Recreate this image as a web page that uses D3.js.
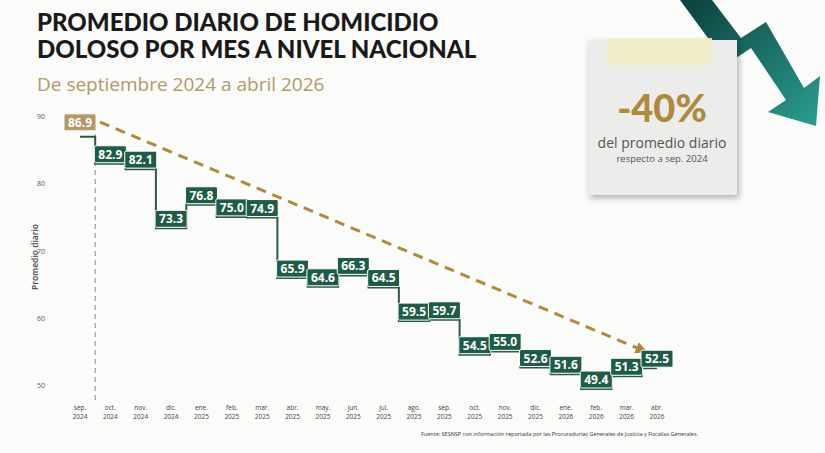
<!DOCTYPE html>
<html><head><meta charset="utf-8">
<script src="https://cdn.jsdelivr.net/npm/d3@7"></script>
<style>body{margin:0;background:#fbfbf9;font-family:'Open Sans',sans-serif}</style>
</head><body><svg id="c" width="825" height="453"></svg>
<script>
const months=["sep.","oct.","nov.","dic.","ene.","feb.","mar.","abr.","may.","jun.","jul.","ago.","sep.","oct.","nov.","dic.","ene.","feb.","mar.","abr."];
const years=["2024","2024","2024","2024","2025","2025","2025","2025","2025","2025","2025","2025","2025","2025","2025","2025","2026","2026","2026","2026"];
const values=[86.9,82.9,82.1,73.3,76.8,75.0,74.9,65.9,64.6,66.3,64.5,59.5,59.7,54.5,55.0,52.6,51.6,49.4,51.3,52.5];
const yTicks=[50,60,70,80,90];
const trend=[89.1,55.2];
const svg=d3.select("#c");
const defs=svg.append("defs");
const g=defs.append("linearGradient").attr("id","ag").attr("x1","0").attr("y1","0").attr("x2","1").attr("y2","1");
g.append("stop").attr("offset","0").attr("stop-color","#0b3f3c");
g.append("stop").attr("offset","1").attr("stop-color","#2b9e90");
const f=defs.append("filter").attr("id","sh").attr("x","-20%").attr("y","-20%").attr("width","140%").attr("height","140%");
f.append("feDropShadow").attr("dx",2).attr("dy",3).attr("stdDeviation",3).attr("flood-opacity",0.3);
defs.append("marker").attr("id","ah").attr("viewBox","0 0 10 10").attr("refX",5).attr("refY",5)
 .attr("markerWidth",4).attr("markerHeight",4).attr("orient","auto")
 .append("path").attr("d","M0,0L10,5L0,10z").attr("fill","#b08a3c");

const x=d3.scalePoint().domain(d3.range(values.length)).range([80,657]);
const y=d3.scaleLinear().domain([50,90]).range([385,116]);

svg.append("text").attr("x",37).attr("y",31).attr("font-family","Lato").attr("font-weight",900).attr("font-size",24).attr("fill","#1a1a1a").text("PROMEDIO DIARIO DE HOMICIDIO");
svg.append("text").attr("x",37).attr("y",58).attr("font-family","Lato").attr("font-weight",900).attr("font-size",24).attr("fill","#1a1a1a").text("DOLOSO POR MES A NIVEL NACIONAL");
svg.append("text").attr("x",37).attr("y",91).attr("font-size",19).attr("fill","#b39868").text("De septiembre 2024 a abril 2026");

svg.selectAll(".yt").data(yTicks).join("text").attr("x",45).attr("y",d=>y(d)+3).attr("text-anchor","end")
 .attr("font-size",7).attr("fill","#555").text(d=>d);
svg.append("text").attr("transform","translate(38,257) rotate(-90)").attr("text-anchor","middle")
 .attr("font-size",8.5).attr("font-weight",600).attr("fill","#444").text("Promedio diario");
const xl=svg.selectAll(".xt").data(values).join("text").attr("text-anchor","middle").attr("font-size",6.5).attr("fill","#444");
xl.append("tspan").attr("x",(d,i)=>x(i)).attr("y",410).text((d,i)=>months[i]);
xl.append("tspan").attr("x",(d,i)=>x(i)).attr("y",419).text((d,i)=>years[i]);
svg.append("line").attr("x1",(x(0)+x(1))/2).attr("x2",(x(0)+x(1))/2).attr("y1",116).attr("y2",400)
 .attr("stroke","#888").attr("stroke-width",1).attr("stroke-dasharray","5,4");

svg.append("path").datum(values).attr("fill","none").attr("stroke","#2d5a47").attr("stroke-width",2)
 .attr("d",d3.line().x((d,i)=>x(i)).y(d=>y(d)).curve(d3.curveStep));

svg.append("line").attr("x1",100).attr("y1",y(trend[0])).attr("x2",642).attr("y2",y(trend[1]))
 .attr("stroke","#b08a3c").attr("stroke-width",3).attr("stroke-dasharray","10,7").attr("marker-end","url(#ah)");

const lb=svg.selectAll(".lb").data(values).join("g")
 .attr("transform",(d,i)=>i===0?`translate(${x(i)},${y(d)-6})`:`translate(${x(i)},${y(d)-1})`);
lb.append("rect").attr("x",-16).attr("y",-17).attr("width",32).attr("height",17).attr("rx",1.5)
 .attr("fill",(d,i)=>i===0?"#b39868":"#1f5c48").attr("stroke","#fff").attr("stroke-width",1);
lb.append("text").attr("y",-4).attr("text-anchor","middle").attr("font-size",12).attr("font-weight",700)
 .attr("fill","#fff").text(d=>d.toFixed(1));

svg.append("text").attr("x",698).attr("y",436).attr("text-anchor","end").attr("font-size",5.5).attr("fill","#333")
 .text("Fuente: SESNSP con información reportada por las Procuradurías Generales de Justicia y Fiscalías Generales.");

svg.append("polygon").attr("points","680,0 727,64 751,48 786,100 768,112 816,126 820,76 804,88 766,22 741,38 712,0").attr("fill","url(#ag)");

svg.append("rect").attr("x",588).attr("y",40).attr("width",149).attr("height",155).attr("fill","#ececea").attr("filter","url(#sh)");
svg.append("rect").attr("x",607).attr("y",38).attr("width",105).attr("height",27).attr("fill","#f2edc2").attr("opacity",0.9);
svg.append("text").attr("x",662).attr("y",122).attr("text-anchor","middle").attr("font-family","Lato").attr("font-weight",900).attr("font-size",38).attr("fill","#b08a3c").text("-40%");
svg.append("text").attr("x",662).attr("y",148).attr("text-anchor","middle").attr("font-size",14).attr("fill","#555").text("del promedio diario");
svg.append("text").attr("x",662).attr("y",162).attr("text-anchor","middle").attr("font-size",9.5).attr("fill","#555").text("respecto a sep. 2024");
</script></body></html>
